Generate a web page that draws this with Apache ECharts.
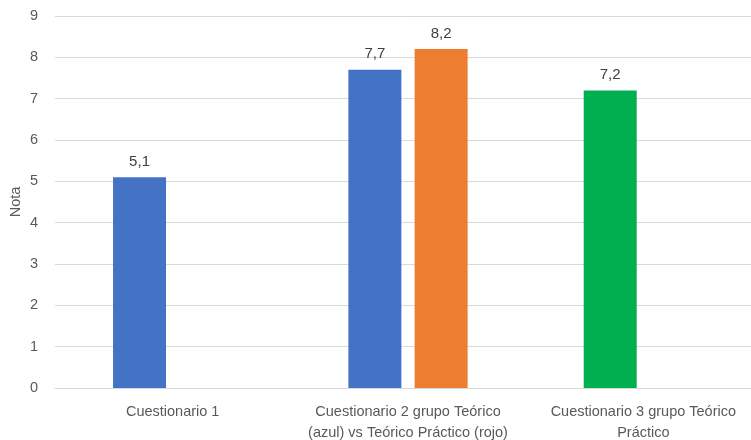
<!DOCTYPE html>
<html>
<head>
<meta charset="utf-8">
<script src="https://cdn.jsdelivr.net/npm/echarts@6/dist/echarts.min.js"></script>
<style>
  html, body { margin: 0; padding: 0; background: #fff; }
  #chart { width: 751px; height: 440px; }
</style>
</head>
<body>
<div id="chart"></div>
<script>
// Categories along the x axis
var categories = [
  'Cuestionario 1',
  'Cuestionario 2 grupo Teórico\n(azul) vs Teórico Práctico (rojo)',
  'Cuestionario 3 grupo Teórico\nPráctico'
];
// First bar of each group (blue, blue, green)
var firstValues = [5.1, 7.7, 7.2];
var firstColors = ['#4472C4', '#4472C4', '#00B050'];
// Second bar of each group (only the theoretical-practical group of questionnaire 2)
var secondValues = [null, 8.2, null];
var secondColor = '#ED7D31';
// Y axis range
var yMin = 0, yMax = 9, yStep = 1;

var fontFamily = '"Liberation Sans", Arial, sans-serif';

function commaLabel(p) {
  return String(p.value).replace('.', ',');
}

var chart = echarts.init(document.getElementById('chart'));
chart.setOption({
  animation: false,
  grid: {
    left: 55, right: -10, top: 16, bottom: 52,
    containLabel: false,
    outerBoundsMode: 'none'
  },
  xAxis: {
    type: 'category',
    data: categories,
    axisLine: { lineStyle: { color: '#d9d9d9', width: 1 } },
    axisTick: { show: false },
    axisLabel: {
      interval: 0,
      color: '#595959',
      fontFamily: fontFamily,
      fontSize: 14.5,
      lineHeight: 21,
      margin: 13
    }
  },
  yAxis: {
    type: 'value',
    min: yMin,
    max: yMax,
    interval: yStep,
    name: 'Nota',
    nameLocation: 'middle',
    nameGap: 32,
    nameMoveOverlap: false,
    nameRotate: 90,
    nameTextStyle: { color: '#595959', fontFamily: fontFamily, fontSize: 14.5 },
    axisLine: { show: false },
    axisTick: { show: false },
    splitLine: { lineStyle: { color: '#d9d9d9', width: 1 } },
    axisLabel: { color: '#595959', fontFamily: fontFamily, fontSize: 14.5, margin: 17 }
  },
  series: [
    {
      type: 'bar',
      barWidth: 53,
      barGap: '25%',
      data: firstValues.map(function (v, i) {
        return { value: v, itemStyle: { color: firstColors[i] } };
      }),
      label: {
        show: true,
        position: 'top',
        distance: 8,
        color: '#404040',
        fontFamily: fontFamily,
        fontSize: 15,
        formatter: commaLabel
      }
    },
    {
      type: 'bar',
      barWidth: 53,
      barGap: '25%',
      data: secondValues,
      itemStyle: { color: secondColor },
      label: {
        show: true,
        position: 'top',
        distance: 8,
        color: '#404040',
        fontFamily: fontFamily,
        fontSize: 15,
        formatter: commaLabel
      }
    }
  ]
});
</script>
</body>
</html>
